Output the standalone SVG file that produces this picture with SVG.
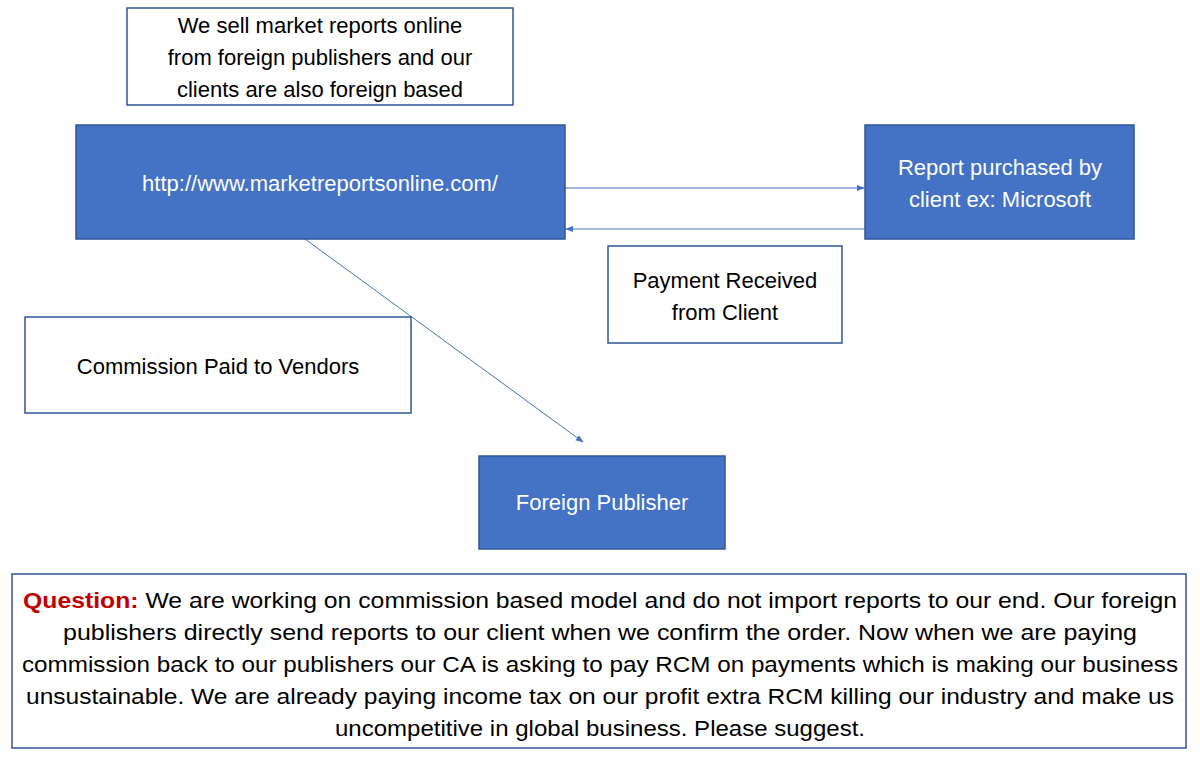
<svg xmlns="http://www.w3.org/2000/svg" width="1200" height="759" viewBox="0 0 1200 759">
<style>
.wb{fill:#fff;stroke:#2F5597;stroke-width:1.5}
.bb{fill:#4472C4;stroke:#2F5597;stroke-width:1.5}
text{font-family:"Liberation Sans",Arial,sans-serif;font-size:22px;text-anchor:middle;dominant-baseline:central}
.w{fill:#fff}
.k{fill:#000}
.c{stroke:#4472C4;stroke-width:1;fill:none;marker-end:url(#a)}
</style>
<defs><marker id="a" viewBox="0 0 10 10" refX="9" refY="5" markerWidth="8" markerHeight="8" orient="auto"><path d="M0,1 L10,5 L0,9 z" fill="#4472C4"/></marker></defs>
<rect width="1200" height="759" fill="#fff"/>
<g id="connectors">
<line class="c" x1="565" y1="188" x2="864" y2="188"/>
<line class="c" x1="865" y1="229" x2="566" y2="229"/>
<line class="c" x1="305" y1="239" x2="583" y2="442"/>
</g>
<g id="note-top"><rect class="wb" x="127" y="8" width="386" height="97"/>
<text class="k" x="320" y="25">We sell market reports online</text>
<text class="k" x="320" y="57">from foreign publishers and our</text>
<text class="k" x="320" y="89">clients are also foreign based</text></g>
<g id="site"><rect class="bb" x="76" y="125" width="489" height="114"/>
<text class="w" x="320" y="183">http://www.marketreportsonline.com/</text></g>
<g id="client"><rect class="bb" x="865" y="125" width="269" height="114"/>
<text class="w" x="1000" y="167">Report purchased by</text>
<text class="w" x="1000" y="199">client ex: Microsoft</text></g>
<g id="payment"><rect class="wb" x="608" y="246" width="234" height="97"/>
<text class="k" x="725" y="280">Payment Received</text>
<text class="k" x="725" y="312">from Client</text></g>
<g id="commission"><rect class="wb" x="25" y="317" width="386" height="96"/>
<text class="k" x="218" y="366">Commission Paid to Vendors</text></g>
<g id="publisher"><rect class="bb" x="479" y="456" width="246" height="93"/>
<text class="w" x="602" y="502">Foreign Publisher</text></g>
<g id="question"><rect class="wb" x="12" y="574" width="1174" height="174"/>
<text class="k" x="600" y="600" textLength="1154" lengthAdjust="spacingAndGlyphs"><tspan fill="#C00000" font-weight="bold">Question:</tspan> We are working on commission based model and do not import reports to our end. Our foreign</text>
<text class="k" x="600" y="632" textLength="1074" lengthAdjust="spacingAndGlyphs">publishers directly send reports to our client when we confirm the order. Now when we are paying</text>
<text class="k" x="600" y="664" textLength="1156" lengthAdjust="spacingAndGlyphs">commission back to our publishers our CA is asking to pay RCM on payments which is making our business</text>
<text class="k" x="600" y="696" textLength="1148" lengthAdjust="spacingAndGlyphs">unsustainable. We are already paying income tax on our profit extra RCM killing our industry and make us</text>
<text class="k" x="600" y="728" textLength="530" lengthAdjust="spacingAndGlyphs">uncompetitive in global business. Please suggest.</text></g>
</svg>
